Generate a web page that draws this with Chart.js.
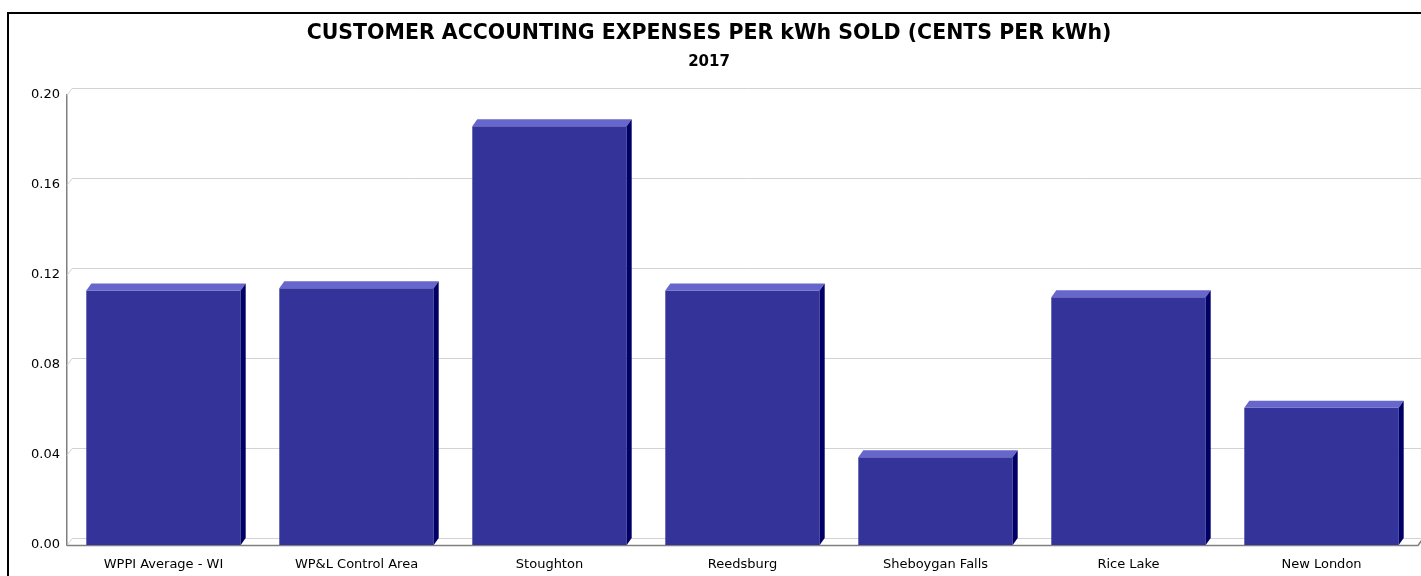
<!DOCTYPE html>
<html>
<head>
<meta charset="utf-8">
<title>Customer Accounting Expenses per kWh Sold</title>
<script src="https://cdn.jsdelivr.net/npm/chart.js@4/dist/chart.umd.min.js"></script>
<style>
  html, body { margin: 0; padding: 0; background: #fff; overflow: hidden; }
  #chart { display: block; }
</style>
</head>
<body>
<canvas id="chart" width="1440" height="576"></canvas>
<script>
// Datos del gráfico
const categories = [
    "WPPI Average - WI",
    "WP&L Control Area",
    "Stoughton",
    "Reedsburg",
    "Sheboygan Falls",
    "Rice Lake",
    "New London",
];
const expenses2017 = [0.113, 0.114, 0.186, 0.113, 0.039, 0.110, 0.061];
const yTicks = [0.0, 0.04, 0.08, 0.12, 0.16, 0.2];

const chartTitle = "CUSTOMER ACCOUNTING EXPENSES PER kWh SOLD (CENTS PER kWh)";
const chartSubtitle = "2017";

// Profundidad del efecto 3D
const DEPTH_X = 5;
const DEPTH_Y = 7;

const fontFamily = "'DejaVu Sans', Verdana, sans-serif";

// Marco, paredes y rejilla detrás de las barras
const backWallPlugin = {
    id: "backWall",
    beforeDatasetsDraw(chart) {
        const { ctx, chartArea, scales } = chart;
        const y = scales.y;
        ctx.save();
        ctx.strokeStyle = "#d3d3d3";
        ctx.lineWidth = 1;
        yTicks.forEach(function (v) {
            const py = Math.round(y.getPixelForValue(v)) + 0.5;
            ctx.beginPath();
            ctx.moveTo(chartArea.left, py);
            ctx.lineTo(chartArea.left + DEPTH_X, py - DEPTH_Y);
            ctx.lineTo(chartArea.right + DEPTH_X, py - DEPTH_Y);
            ctx.stroke();
        });
        // línea base frontal
        const by = Math.round(y.getPixelForValue(0)) + 0.5;
        ctx.strokeStyle = "#7f7f7f";
        ctx.lineWidth = 1.5;
        ctx.beginPath();
        ctx.moveTo(chartArea.left, by);
        ctx.lineTo(chartArea.right, by);
        ctx.lineTo(chartArea.right + DEPTH_X, by - DEPTH_Y);
        ctx.stroke();
        ctx.restore();
    },
    afterDatasetsDraw(chart) {
        const { ctx } = chart;
        const meta = chart.getDatasetMeta(0);
        ctx.save();
        meta.data.forEach(function (bar) {
            const props = bar.getProps(["x", "y", "base", "width"], true);
            const left = props.x - props.width / 2;
            const right = props.x + props.width / 2;
            const top = props.y;
            const bottom = props.base;
            // cara superior
            ctx.fillStyle = "#6666cc";
            ctx.beginPath();
            ctx.moveTo(left, top);
            ctx.lineTo(left + DEPTH_X, top - DEPTH_Y);
            ctx.lineTo(right + DEPTH_X, top - DEPTH_Y);
            ctx.lineTo(right, top);
            ctx.closePath();
            ctx.fill();
            // cara lateral
            ctx.fillStyle = "#000066";
            ctx.beginPath();
            ctx.moveTo(right, top);
            ctx.lineTo(right + DEPTH_X, top - DEPTH_Y);
            ctx.lineTo(right + DEPTH_X, bottom - DEPTH_Y);
            ctx.lineTo(right, bottom);
            ctx.closePath();
            ctx.fill();
        });
        ctx.restore();
    },
    afterDraw(chart) {
        const { ctx } = chart;
        ctx.save();
        ctx.strokeStyle = "#000";
        ctx.lineWidth = 2;
        ctx.strokeRect(8, 13, 1600, 700);
        ctx.restore();
    },
};

const ctx = document.getElementById("chart").getContext("2d");
const chart = new Chart(ctx, {
    type: "bar",
    data: {
        labels: categories,
        datasets: [
            {
                data: expenses2017,
                backgroundColor: "#333399",
                borderWidth: 0,
                barPercentage: 0.8,
                categoryPercentage: 1.0,
            },
        ],
    },
    options: {
        responsive: false,
        devicePixelRatio: 1,
        animation: false,
        layout: {
            padding: { left: 0, right: 22, top: 0, bottom: 0 },
        },
        plugins: {
            legend: { display: false },
            tooltip: { enabled: false },
            title: {
                display: true,
                text: chartTitle,
                color: "#000",
                font: { family: fontFamily, size: 20.5, weight: "bold" },
                padding: { top: 21, bottom: 8 },
            },
            subtitle: {
                display: true,
                text: chartSubtitle,
                color: "#000",
                font: { family: fontFamily, size: 15, weight: "bold" },
                padding: { top: 0, bottom: 23 },
            },
        },
        scales: {
            x: {
                grid: { display: false, drawTicks: false },
                border: { display: false },
                ticks: {
                    color: "#000",
                    font: { family: fontFamily, size: 13 },
                    padding: 12,
                    maxRotation: 0,
                    autoSkip: false,
                },
                afterFit(scale) {
                    scale.height = 31;
                },
            },
            y: {
                min: 0,
                max: 0.2,
                grid: { display: false, drawTicks: false },
                border: { display: true, color: "#7f7f7f", width: 1.5 },
                ticks: {
                    stepSize: 0.04,
                    color: "#000",
                    font: { family: fontFamily, size: 13 },
                    padding: 7,
                    callback: function (value) {
                        return Number(value).toFixed(2);
                    },
                },
                afterFit(scale) {
                    scale.width = 67;
                },
            },
        },
    },
    plugins: [backWallPlugin],
});
</script>
</body>
</html>
